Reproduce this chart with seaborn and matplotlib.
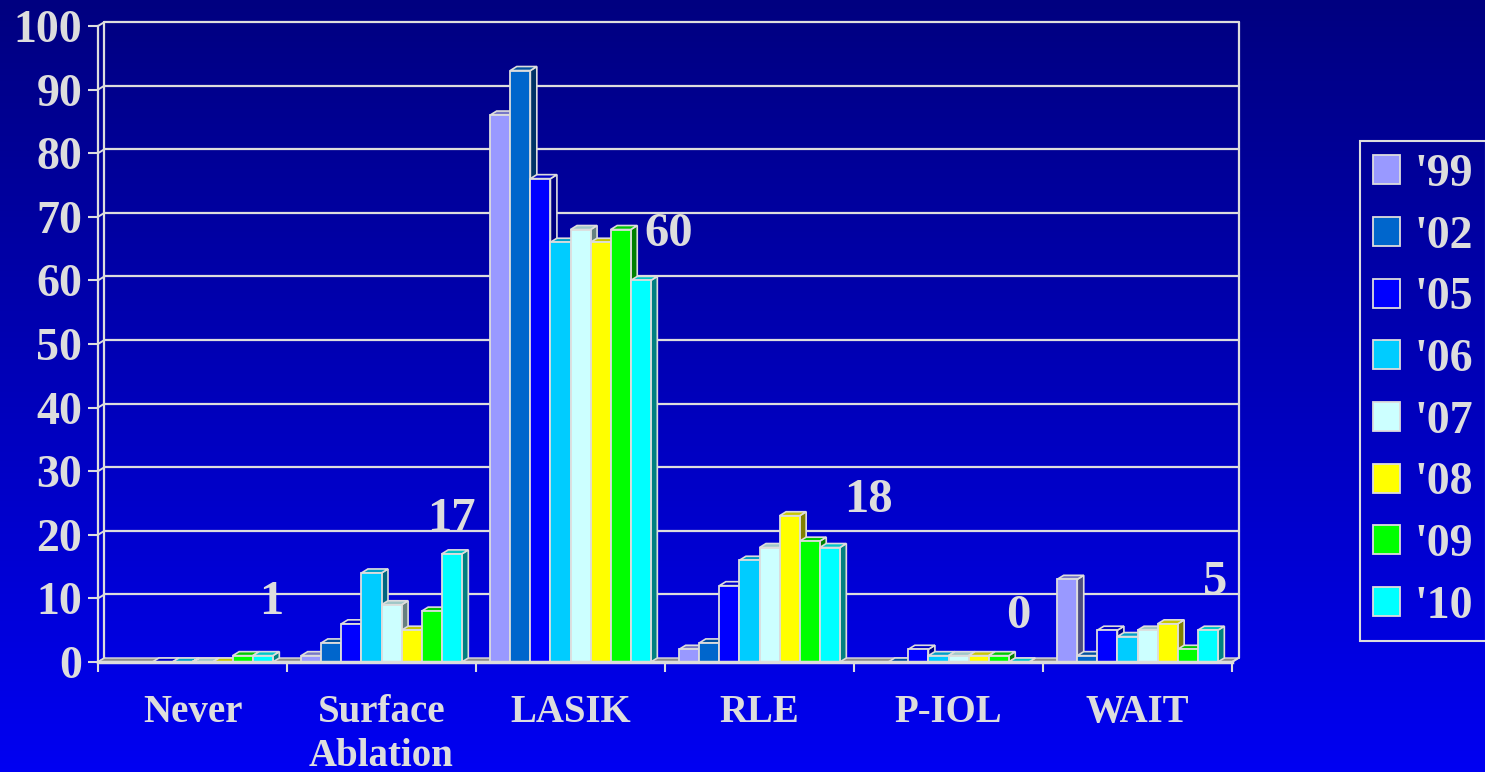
import numpy as np
import pandas as pd
import matplotlib
matplotlib.use("Agg")
import matplotlib.pyplot as plt
import seaborn as sns
from matplotlib.patches import Polygon
from matplotlib.colors import to_rgb, LinearSegmentedColormap

nan = np.nan

# ---------------- data ----------------
categories = ["Never", "Surface\nAblation", "LASIK", "RLE", "P-IOL", "WAIT"]
years = ["'99", "'02", "'05", "'06", "'07", "'08", "'09", "'10"]

y99 = [nan, 1, 86, 2, nan, 13]
y02 = [nan, 3, 93, 3, 0, 1]
y05 = [0, 6, 76, 12, 2, 5]
y06 = [0, 14, 66, 16, 1, 4]
y07 = [0, 9, 68, 18, 1, 5]
y08 = [0, 5, 66, 23, 1, 6]
y09 = [1, 8, 68, 19, 1, 2]
y10 = [1, 17, 60, 18, 0, 5]
series = [y99, y02, y05, y06, y07, y08, y09, y10]

colors = ["#9999FF", "#0066CC", "#0000FF", "#00CCFF",
          "#CCFFFF", "#FFFF00", "#00FF00", "#00FFFF"]
yticks = list(range(0, 101, 10))

# value labels (shown above the '10 bars): small nudges in pixels
label_dx_px = [8, 0, 28, 39, 0, 7]
label_dy_px = [32, 13, 24, 26, 24, 26]

# ---------------- figure ----------------
W, H, DPI = 1485, 772, 100
EDGE = "#DDDDDD"
sns.set_theme(style="white")
plt.rcParams["font.family"] = ["Liberation Serif", "DejaVu Serif"]
plt.rcParams["font.weight"] = "bold"

fig = plt.figure(figsize=(W / DPI, H / DPI), dpi=DPI)

# gradient background
bg = fig.add_axes([0, 0, 1, 1], zorder=-10)
grad = np.linspace(0, 1, 256).reshape(-1, 1)
cmap = LinearSegmentedColormap.from_list("bg", ["#000080", "#0000F2"])
bg.imshow(grad, aspect="auto", cmap=cmap, extent=[0, 1, 0, 1], origin="upper")
bg.axis("off")

AX_L, AX_B, AX_W, AX_H = 98, 662, 1134, 636   # pixels
ax = fig.add_axes([AX_L / W, (H - AX_B) / H, AX_W / W, AX_H / H])
ax.patch.set_visible(False)

records = []
for yr, vals in zip(years, series):
    for cat, v in zip(categories, vals):
        records.append((cat, yr, v))
df = pd.DataFrame(records, columns=["category", "year", "value"])

sns.barplot(data=df, x="category", y="value", hue="year", order=categories,
            hue_order=years, palette=colors, saturation=1, width=0.85,
            edgecolor=EDGE, linewidth=1.3, errorbar=None, ax=ax)

ax.set_xlim(-0.5, 5.5)
ax.set_ylim(0, 100)
px_x = 6 / AX_W
px_y = 100 / AX_H
DX = 6.5 * px_x
DY = 4 * px_y

# floor
ax.add_patch(Polygon([(-0.5, 0), (5.5, 0), (5.5 + DX, DY), (-0.5 + DX, DY)],
                     closed=True, fc="#8C8C8C", ec=EDGE, lw=1.0, zorder=2, clip_on=False))

# back wall gridlines, connectors, verticals
for v in yticks[1:]:
    ax.plot([-0.5 + DX, 5.5 + DX], [v + DY, v + DY], color=EDGE, lw=1.6, zorder=1, clip_on=False)
for v in yticks:
    ax.plot([-0.5, -0.5 + DX], [v, v + DY], color=EDGE, lw=1.4, zorder=1, clip_on=False)
ax.plot([-0.5 + DX] * 2, [DY, 100 + DY], color=EDGE, lw=1.6, zorder=1, clip_on=False)
ax.plot([5.5 + DX] * 2, [DY, 100 + DY], color=EDGE, lw=1.6, zorder=1, clip_on=False)
ax.plot([5.5, 5.5 + DX], [0, DY], color=EDGE, lw=1.4, zorder=2, clip_on=False)

# 3D faces for every bar
bars = sorted([p for p in ax.patches[:] if hasattr(p, "get_height")
               and np.isfinite(p.get_height()) and p.get_width() < 0.5],
              key=lambda p: p.get_x())
for k, p in enumerate(bars):
    z = 3 + k * 0.01
    x0, w, h = p.get_x(), p.get_width(), p.get_height()
    fc = np.array(to_rgb(p.get_facecolor()))
    side = Polygon([(x0 + w, 0), (x0 + w, h), (x0 + w + DX, h + DY), (x0 + w + DX, DY)],
                   closed=True, fc=fc * 0.5, ec=EDGE, lw=1.2, zorder=z, clip_on=False)
    top = Polygon([(x0, h), (x0 + w, h), (x0 + w + DX, h + DY), (x0 + DX, h + DY)],
                  closed=True, fc=fc * 0.78, ec=EDGE, lw=1.2, zorder=z + 0.001, clip_on=False)
    ax.add_patch(side)
    ax.add_patch(top)
    p.set_zorder(z + 0.005)

# value labels above the '10 bars
cont = ax.containers[years.index("'10")]
for i, p in enumerate(cont):
    xc = p.get_x() + p.get_width() / 2 + label_dx_px[i] * px_x
    yv = p.get_height() + label_dy_px[i] * px_y
    ax.text(xc, yv, f"{y10[i]:g}", ha="center", va="bottom", fontsize=35,
            color=EDGE, zorder=20)

# spines and ticks
for s in ["top", "right"]:
    ax.spines[s].set_visible(False)
ax.spines["left"].set_color(EDGE)
ax.spines["left"].set_linewidth(1.6)
ax.spines["bottom"].set_color(EDGE)
ax.spines["bottom"].set_linewidth(2.5)
ax.spines["bottom"].set_zorder(10)

ax.set_yticks(yticks)
ax.tick_params(axis="y", direction="out", length=7.5, width=1.5, color=EDGE,
               labelsize=33, labelcolor=EDGE, pad=4, left=True)
ax.set_xticks(np.arange(-0.5, 6, 1))
ax.set_xticklabels([])
ax.set_xticks(range(6), minor=True)
ax.set_xticklabels(categories, minor=True)
ax.tick_params(axis="x", which="major", direction="out", length=7.5, width=1.5,
               color=EDGE, bottom=True)
ax.tick_params(axis="x", which="minor", length=0, pad=23, labelsize=28,
               labelcolor=EDGE, bottom=True)
for lbl in ax.get_xticklabels(minor=True):
    lbl.set_linespacing(1.25)
ax.set_xlabel("")
ax.set_ylabel("")

# legend
sns.move_legend(ax, "upper left", bbox_to_anchor=(1360 / W, 1 - 141 / H),
                bbox_transform=fig.transFigure, title="", frameon=True,
                fontsize=33, labelcolor=EDGE, handlelength=0.6, handleheight=0.6,
                handletextpad=0.3, borderpad=0.28, labelspacing=0.43,
                borderaxespad=0, fancybox=False, edgecolor=EDGE, facecolor="none")
leg = ax.get_legend()
leg.get_frame().set_linewidth(1.5)
leg.get_frame().set_alpha(None)
leg.get_frame().set_facecolor("none")

fig.savefig("out.png", dpi=DPI)
